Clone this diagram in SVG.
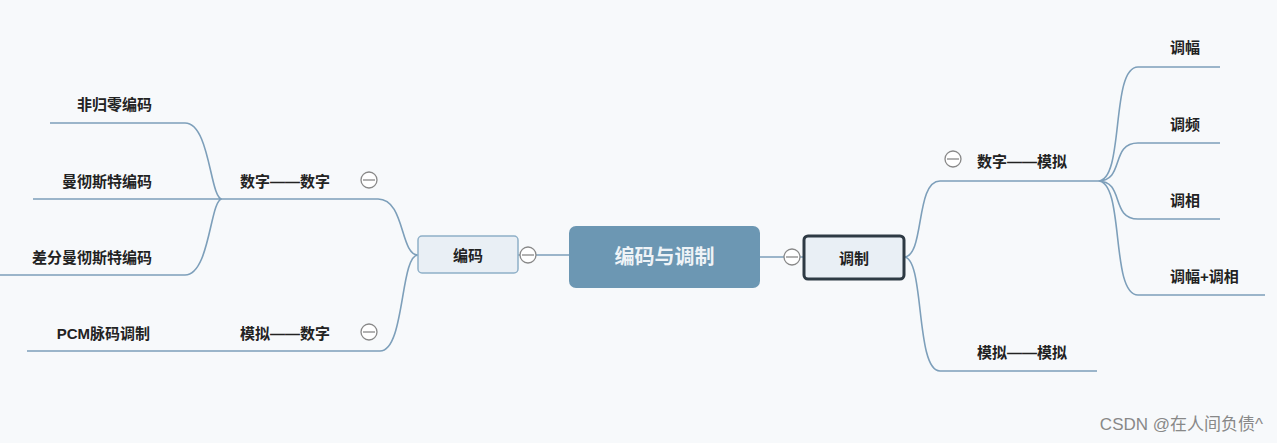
<svg xmlns="http://www.w3.org/2000/svg" width="1277" height="443" viewBox="0 0 1277 443">
<style>
.l{fill:none;stroke:#7d9fba;stroke-width:1.6}
.t{font-family:"Liberation Sans","Noto Sans CJK SC",sans-serif;font-size:15px;font-weight:bold;fill:#222}
.c{fill:#fff;stroke:#888;stroke-width:1.3}
.m{stroke:#888;stroke-width:1.3}
</style>
<rect width="1277" height="443" fill="#f7f9fb"/>
<g id="connectors">
<path class="l" d="M50 123H185C210 123 210 199 222 199M33 199H222M0 275H185C210 275 210 199 222 199"/>
<path class="l" d="M222 199H378C405 199 400 255 418 255M27 351H380C405 351 400 255 418 255"/>
<path class="l" d="M518 255H569M760 257H803"/>
<path class="l" d="M904 257C925 257 915 181 940 181H1098M904 257C925 257 915 371 940 371H1097"/>
<path class="l" d="M1098 181C1125 181 1110 67 1138 67H1220M1098 181C1125 181 1110 143 1138 143H1220M1098 181C1125 181 1110 219 1138 219H1220M1098 181C1125 181 1110 295 1138 295H1265"/>
</g>
<g id="root"><rect x="569" y="226" width="191" height="62" rx="7" fill="#6c97b3"/><text x="664.5" y="264" text-anchor="middle" font-family="Liberation Sans,'Noto Sans CJK SC',sans-serif" font-size="20" font-weight="bold" fill="#eef3f7">编码与调制</text></g>
<g id="bianma"><rect x="418" y="236" width="100" height="37" rx="4" fill="#e9eff5" stroke="#8fb0c8" stroke-width="1.5"/><text class="t" x="468" y="261" text-anchor="middle" font-size="17">编码</text><circle class="c" cx="528" cy="255" r="8"/><path class="m" d="M522 255H534"/></g>
<g id="tiaozhi"><rect x="804" y="236" width="100" height="43" rx="4" fill="#e9eff5" stroke="#2e3a44" stroke-width="3"/><text class="t" x="854" y="264" text-anchor="middle" font-size="17">调制</text><circle class="c" cx="792" cy="257" r="8"/><path class="m" d="M786 257H798"/></g>
<g id="dd"><text class="t" x="240" y="187">数字——数字</text><circle class="c" cx="369" cy="180" r="8"/><path class="m" d="M363 180H375"/></g>
<g id="md"><text class="t" x="240" y="339">模拟——数字</text><circle class="c" cx="369" cy="332" r="8"/><path class="m" d="M363 332H375"/></g>
<g id="n1"><text class="t" x="152" y="110" text-anchor="end">非归零编码</text></g>
<g id="n2"><text class="t" x="152" y="187" text-anchor="end">曼彻斯特编码</text></g>
<g id="n3"><text class="t" x="152" y="263" text-anchor="end">差分曼彻斯特编码</text></g>
<g id="n4"><text class="t" x="150" y="339" text-anchor="end">PCM脉码调制</text></g>
<g id="dm"><text class="t" x="977" y="167">数字——模拟</text><circle class="c" cx="953" cy="159" r="8"/><path class="m" d="M947 159H959"/></g>
<g id="mm"><text class="t" x="977" y="358">模拟——模拟</text></g>
<g id="r1"><text class="t" x="1170" y="53">调幅</text></g>
<g id="r2"><text class="t" x="1170" y="130">调频</text></g>
<g id="r3"><text class="t" x="1170" y="206">调相</text></g>
<g id="r4"><text class="t" x="1170" y="282">调幅+调相</text></g>
<text x="1263" y="430" text-anchor="end" font-family="Liberation Sans,'Noto Sans CJK SC',sans-serif" font-size="17" fill="#888">CSDN @在人间负债^</text>
</svg>
